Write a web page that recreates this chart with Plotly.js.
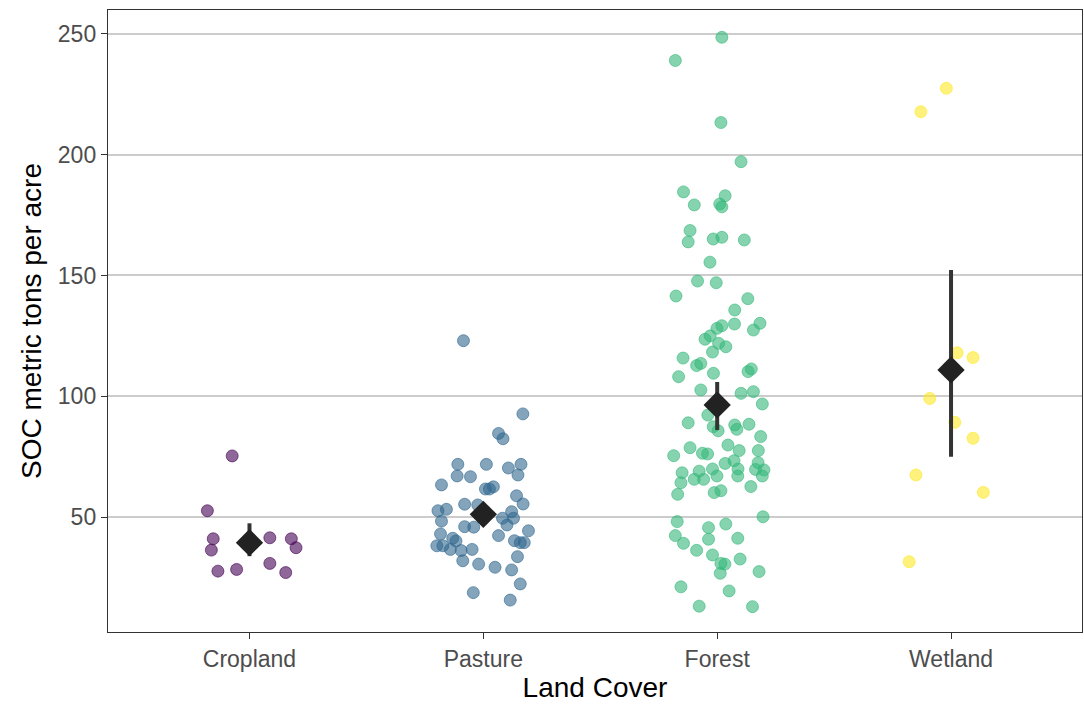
<!DOCTYPE html>
<html>
<head>
<meta charset="utf-8">
<script src="https://cdn.plot.ly/plotly-3.0.1.min.js"></script>
<style>html,body{margin:0;padding:0;background:#fff;}#chart{width:1084px;height:706px;}</style>
</head>
<body>
<div id="chart"></div>
<script>
// Categories
const categories = ["Cropland", "Pasture", "Forest", "Wetland"];
const colors = ["68,1,84", "49,104,142", "53,183,121", "253,231,37"];

// Cropland
const croplandY = [75.3, 52.6, 41.0, 36.3, 27.6, 28.3, 41.4, 41.0, 37.3, 30.8, 27.0];
const croplandJitter = [-0.074, -0.18, -0.155, -0.163, -0.135, -0.055, 0.087, 0.179, 0.199, 0.087, 0.155];

// Pasture
const pastureY = [123.0, 92.7, 84.6, 82.4, 71.8, 71.8, 70.3, 71.8, 67.0, 66.7, 67.4, 63.3, 61.6, 62.5, 61.6,
  58.8, 55.4, 55.3, 55.0, 52.6, 53.2, 48.3, 52.2, 49.5, 49.5, 46.7, 46.0, 45.8, 44.3, 43.0, 42.3, 41.2,
  40.1, 38.1, 38.1, 36.6, 36.1, 36.6, 40.2, 39.4, 39.4, 33.6, 31.9, 30.5, 29.2, 28.1, 22.3, 18.7, 15.6];
const pastureJitter = [-0.085, 0.169, 0.065, 0.084, -0.109, 0.013, 0.107, 0.161, -0.112, -0.055, 0.148, -0.179, 0.009, 0.043, 0.026,
  0.142, 0.17, -0.08, -0.024, -0.194, -0.158, -0.179, 0.121, 0.082, 0.129, 0.101, -0.08, -0.041, 0.193, -0.183, 0.065, -0.131,
  -0.117, -0.199, -0.173, -0.141, -0.095, -0.048, 0.133, 0.158, 0.175, 0.146, -0.088, -0.02, 0.05, 0.121, 0.158, -0.043, 0.115];

// Forest
const forestY = [248.6, 239.0, 213.3, 197.1, 184.6, 183.0, 179.2, 179.6, 178.4, 168.6, 163.9, 165.1, 165.8, 164.7, 155.5,
  147.7, 147.0, 141.5, 140.4, 135.7, 130.2, 127.4, 129.9, 129.2, 128.1, 125.0, 123.6, 121.9, 120.5, 118.3,
  115.8, 112.7, 113.6, 110.2, 111.3, 108.1, 109.5, 102.6, 101.2, 101.9, 96.8, 92.2, 89.0, 87.4, 85.7,
  88.1, 86.3, 88.4, 83.3, 78.7, 75.4, 76.4, 76.1, 79.8, 77.5, 77.5, 72.2, 73.3, 72.5, 68.3, 69.0, 69.9,
  69.9, 69.7, 69.5, 64.2, 65.6, 65.6, 67.0, 67.0, 67.0, 62.6, 59.4, 60.1, 60.9, 50.1, 48.1, 45.6, 47.1,
  42.3, 40.8, 41.2, 39.1, 36.2, 34.3, 32.6, 30.8, 30.5, 26.7, 27.4, 21.1, 19.4, 13.1, 12.9];
const forestJitter = [0.02, -0.179, 0.016, 0.102, -0.144, 0.034, -0.098, 0.011, 0.02, -0.116, -0.124, -0.017, 0.02, 0.116, -0.031,
  -0.084, -0.004, -0.176, 0.131, 0.075, 0.183, 0.155, 0.074, 0.02, -0.001, -0.03, -0.052, 0.006, 0.037, -0.02,
  -0.146, -0.088, -0.07, 0.132, 0.146, -0.165, -0.016, -0.07, 0.102, 0.155, 0.193, -0.04, -0.124, -0.017, 0.004,
  0.075, 0.084, 0.136, 0.186, -0.116, -0.186, -0.063, -0.041, 0.046, 0.094, 0.176, 0.034, 0.072, 0.175, -0.15, -0.077, -0.02,
  0.089, 0.164, 0.2, -0.155, -0.098, -0.058, -0.001, 0.088, 0.193, 0.144, -0.169, -0.013, 0.016, 0.196, -0.171, -0.037, 0.037,
  -0.179, -0.037, 0.088, -0.144, -0.088, -0.02, 0.098, 0.016, 0.033, 0.013, 0.179, -0.155, 0.051, -0.077, 0.151];

// Wetland
const wetlandY = [227.5, 217.8, 118.0, 116.0, 99.1, 89.2, 82.6, 67.4, 60.2, 31.5];
const wetlandJitter = [-0.02, -0.129, 0.026, 0.094, -0.091, 0.016, 0.094, -0.15, 0.138, -0.179];

// Summary (mean and interval)
const meanValues = [39.4, 51.1, 96.4, 110.9];
const lowerValues = [33.8, 47.0, 86.0, 75.0];
const upperValues = [47.4, 55.0, 105.9, 152.3];

// Tick labels
const yTickVals = [50, 100, 150, 200, 250];
const yTickText = ["50", "100", "150", "200", "250"];

const groupsY = [croplandY, pastureY, forestY, wetlandY];
const groupsJ = [croplandJitter, pastureJitter, forestJitter, wetlandJitter];

const traces = groupsY.map((ys, i) => ({
  type: "scatter",
  mode: "markers",
  name: categories[i],
  x: groupsJ[i].map(j => i + j),
  y: ys,
  marker: {
    size: 12,
    color: "rgba(" + colors[i] + ",0.6)",
    line: {color: "rgba(" + colors[i] + ",0.6)", width: 1}
  },
  hoverinfo: "y",
  showlegend: false
}));

traces.push({
  type: "scatter",
  mode: "markers",
  x: categories.map((c, i) => i),
  y: meanValues,
  error_y: {
    type: "data",
    symmetric: false,
    array: upperValues.map((u, i) => u - meanValues[i]),
    arrayminus: meanValues.map((m, i) => m - lowerValues[i]),
    thickness: 4,
    width: 0,
    color: "#333333"
  },
  marker: {symbol: "diamond", size: 21, color: "#222222"},
  showlegend: false
});

const layout = {
  width: 1084,
  height: 706,
  margin: {l: 108, r: 2, t: 10, b: 74},
  paper_bgcolor: "#ffffff",
  plot_bgcolor: "#ffffff",
  font: {family: "Liberation Sans, Arial, sans-serif", color: "#4d4d4d"},
  xaxis: {
    range: [-0.605, 3.56],
    tickvals: [0, 1, 2, 3],
    ticktext: categories,
    tickfont: {size: 23, color: "#4d4d4d"},
    ticks: "outside",
    ticklen: 6,
    tickcolor: "#333333",
    showgrid: false,
    zeroline: false,
    showline: true,
    mirror: true,
    linecolor: "#333333",
    linewidth: 1.2,
    title: {text: "Land Cover", font: {size: 28, color: "#000000"}, standoff: 6}
  },
  yaxis: {
    range: [2.4, 259.9],
    tickvals: yTickVals,
    ticktext: yTickText,
    tickfont: {size: 23, color: "#4d4d4d"},
    ticks: "outside",
    ticklen: 6,
    tickcolor: "#333333",
    showgrid: true,
    gridcolor: "#cccccc",
    gridwidth: 2,
    zeroline: false,
    showline: true,
    mirror: true,
    linecolor: "#333333",
    linewidth: 1.2,
    title: {text: "SOC metric tons per acre", font: {size: 28, color: "#000000"}, standoff: 8}
  },
  showlegend: false
};

Plotly.newPlot("chart", traces, layout, {displayModeBar: false, staticPlot: true});
</script>
</body>
</html>
